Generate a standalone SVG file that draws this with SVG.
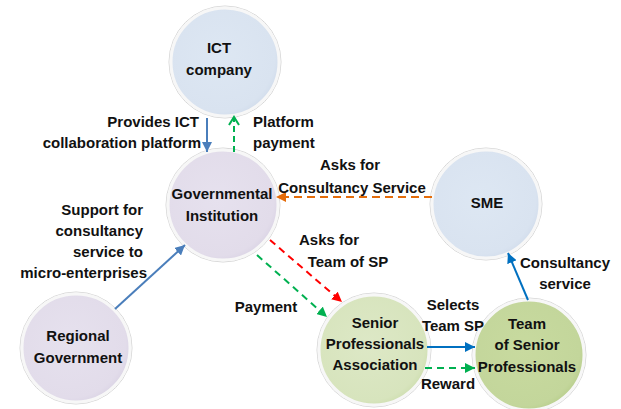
<svg xmlns="http://www.w3.org/2000/svg" width="621" height="409" viewBox="0 0 621 409">
<defs>
<style>
text{font-family:"Liberation Sans",Arial,sans-serif;font-weight:bold;font-size:15px;fill:#111}
.c{text-anchor:middle}
.r{text-anchor:end}
.node{stroke:#f7f7f7;stroke-width:3}
.rim{fill:none;stroke:#d6d6d6;stroke-width:1}
.ln{fill:none;stroke-width:2}
</style>
<radialGradient id="gB" cx="0.45" cy="0.45" r="0.6"><stop offset="0" stop-color="#dde7f3"/><stop offset="0.85" stop-color="#d9e3f0"/><stop offset="1" stop-color="#cfdaea"/></radialGradient>
<radialGradient id="gP" cx="0.45" cy="0.45" r="0.6"><stop offset="0" stop-color="#e6e1ee"/><stop offset="0.85" stop-color="#e2dcea"/><stop offset="1" stop-color="#d8d1e3"/></radialGradient>
<radialGradient id="gG1" cx="0.45" cy="0.45" r="0.6"><stop offset="0" stop-color="#dde8c6"/><stop offset="0.85" stop-color="#d7e4bd"/><stop offset="1" stop-color="#cbdcab"/></radialGradient>
<radialGradient id="gG2" cx="0.45" cy="0.45" r="0.6"><stop offset="0" stop-color="#c8da9f"/><stop offset="0.85" stop-color="#c3d69b"/><stop offset="1" stop-color="#b5cc88"/></radialGradient>
<marker id="aB1" markerUnits="userSpaceOnUse" markerWidth="12" markerHeight="10" refX="10" refY="5" orient="auto"><path d="M0,0 L10,5 L0,10 Z" fill="#4a7ebb"/></marker>
<marker id="aB2" markerUnits="userSpaceOnUse" markerWidth="12" markerHeight="10" refX="10" refY="5" orient="auto"><path d="M0,0 L10,5 L0,10 Z" fill="#0070c0"/></marker>
<marker id="aG" markerUnits="userSpaceOnUse" markerWidth="12" markerHeight="10" refX="10" refY="5" orient="auto"><path d="M0,0 L10,5 L0,10 Z" fill="#00b050"/></marker>
<marker id="aGo" markerUnits="userSpaceOnUse" markerWidth="12" markerHeight="12" refX="9" refY="6" orient="auto"><path d="M1,1 L9,6 L1,11" fill="none" stroke="#00b050" stroke-width="2"/></marker>
<marker id="aR" markerUnits="userSpaceOnUse" markerWidth="12" markerHeight="10" refX="10" refY="5" orient="auto"><path d="M0,0 L10,5 L0,10 Z" fill="#ff0000"/></marker>
<marker id="aO" markerUnits="userSpaceOnUse" markerWidth="12" markerHeight="10" refX="10" refY="5" orient="auto"><path d="M0,0 L10,5 L0,10 Z" fill="#e46c0a"/></marker>
</defs>
<rect width="621" height="409" fill="#ffffff"/>

<g id="ict">
<circle cx="225" cy="62" r="56" class="rim"/>
<circle cx="225" cy="62" r="54" fill="url(#gB)" class="node"/>
<text x="219" y="53" class="c">ICT</text>
<text x="219" y="75" class="c">company</text>
</g>
<g id="gov">
<circle cx="223" cy="205" r="57" class="rim"/>
<circle cx="223" cy="205" r="55" fill="url(#gP)" class="node"/>
<text x="222" y="199" class="c">Governmental</text>
<text x="222" y="221" class="c">Institution</text>
</g>
<g id="sme">
<circle cx="486" cy="204" r="56" class="rim"/>
<circle cx="486" cy="204" r="54" fill="url(#gB)" class="node"/>
<text x="487" y="208" class="c">SME</text>
</g>
<g id="regional">
<circle cx="76" cy="348" r="56" class="rim"/>
<circle cx="76" cy="348" r="54" fill="url(#gP)" class="node"/>
<text x="78" y="341" class="c">Regional</text>
<text x="78" y="363" class="c">Government</text>
</g>
<g id="spa">
<circle cx="374" cy="350" r="57" class="rim"/>
<circle cx="374" cy="350" r="55" fill="url(#gG1)" class="node"/>
<text x="375" y="328" class="c">Senior</text>
<text x="375" y="349" class="c">Professionals</text>
<text x="375" y="370" class="c">Association</text>
</g>
<g id="team">
<circle cx="529" cy="355" r="57" class="rim"/>
<circle cx="529" cy="355" r="55" fill="url(#gG2)" class="node"/>
<text x="527" y="329" class="c">Team</text>
<text x="527" y="350" class="c">of Senior</text>
<text x="527" y="372" class="c">Professionals</text>
</g>

<g id="connectors">
<path class="ln" d="M207,118 L207,152" stroke="#4a7ebb" marker-end="url(#aB1)"/>
<path class="ln" d="M234,152 L234,117" stroke="#00b050" stroke-dasharray="6 4" marker-end="url(#aGo)"/>
<path class="ln" d="M432,197 L276,197" stroke="#e46c0a" stroke-dasharray="8 5" marker-end="url(#aO)"/>
<path class="ln" d="M270,240 L342,302" stroke="#ff0000" stroke-dasharray="7 5" marker-end="url(#aR)"/>
<path class="ln" d="M257,255 L327,317" stroke="#00b050" stroke-dasharray="7 5" marker-end="url(#aG)"/>
<path class="ln" d="M115,309 L185,245" stroke="#4a7ebb" marker-end="url(#aB1)"/>
<path class="ln" d="M427,347 L475,347" stroke="#0070c0" marker-end="url(#aB2)"/>
<path class="ln" d="M425,368 L475,368" stroke="#00b050" stroke-dasharray="7 5" marker-end="url(#aG)"/>
<path class="ln" d="M528,300 L508,253" stroke="#0070c0" marker-end="url(#aB2)"/>
</g>

<g id="labels">
<text x="199" y="127" class="r">Provides ICT</text>
<text x="201" y="148" class="r">collaboration platform</text>
<text x="253" y="127">Platform</text>
<text x="253" y="148">payment</text>
<text x="350" y="170" class="c">Asks for</text>
<text x="352" y="193" class="c">Consultancy Service</text>
<text x="329" y="245" class="c">Asks for</text>
<text x="348" y="267" class="c">Team of SP</text>
<text x="266" y="312" class="c">Payment</text>
<text x="143" y="215" class="r">Support for</text>
<text x="143" y="236" class="r">consultancy</text>
<text x="143" y="257" class="r">service to</text>
<text x="147" y="278" class="r">micro-enterprises</text>
<text x="453" y="310" class="c">Selects</text>
<text x="453" y="331" class="c">Team SP</text>
<text x="448" y="389" class="c">Reward</text>
<text x="565" y="268" class="c">Consultancy</text>
<text x="565" y="289" class="c">service</text>
</g>
</svg>
